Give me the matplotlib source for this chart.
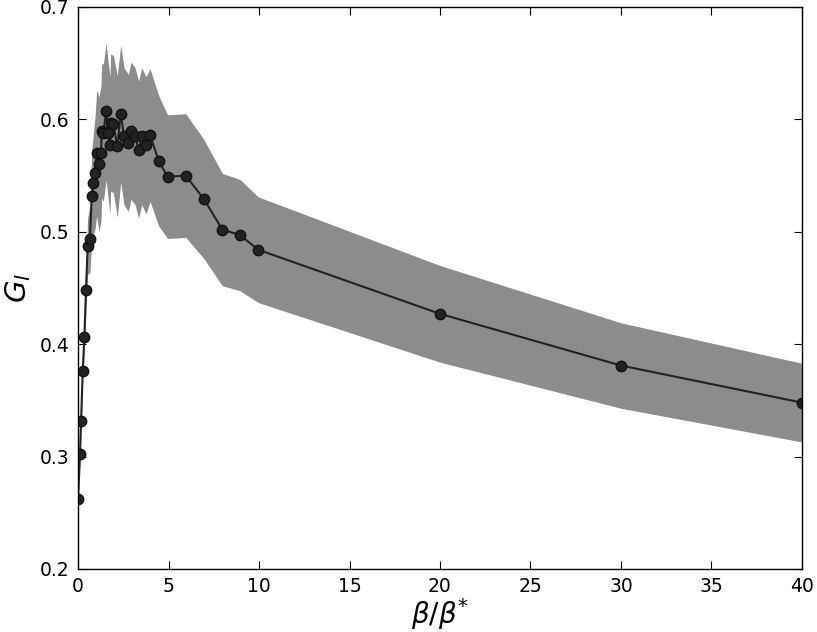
import matplotlib
matplotlib.use("Agg")
import matplotlib.pyplot as plt
import numpy as np

beta_ratio = [0.00, 0.11, 0.17, 0.26, 0.35, 0.44, 0.53, 0.66, 0.76, 0.85, 0.94,
              1.03, 1.16, 1.27, 1.31, 1.40, 1.55, 1.68, 1.77, 1.80, 1.95, 2.17,
              2.36, 2.54, 2.78, 2.93, 3.15, 3.35, 3.52, 3.76, 3.98, 4.46, 4.95,
              5.95, 6.96, 7.97, 8.95, 9.96, 20.0, 30.0, 40.0]
G_l = [0.262, 0.302, 0.332, 0.376, 0.406, 0.448, 0.487, 0.494, 0.532, 0.543, 0.552,
       0.570, 0.560, 0.570, 0.590, 0.588, 0.607, 0.588, 0.577, 0.597, 0.596, 0.576,
       0.605, 0.585, 0.579, 0.590, 0.585, 0.573, 0.585, 0.577, 0.586, 0.563, 0.549,
       0.550, 0.529, 0.502, 0.497, 0.484, 0.427, 0.381, 0.348]
G_std = [0.002, 0.004, 0.005, 0.007, 0.010, 0.015, 0.025, 0.030, 0.040, 0.045, 0.050,
         0.056, 0.060, 0.060, 0.060, 0.061, 0.061, 0.061, 0.061, 0.061, 0.061, 0.063,
         0.061, 0.061, 0.061, 0.061, 0.061, 0.061, 0.061, 0.061, 0.059, 0.058, 0.055,
         0.055, 0.053, 0.050, 0.0495, 0.047, 0.043, 0.038, 0.035]

x = np.array(beta_ratio)
y = np.array(G_l)
s = np.array(G_std)

fig = plt.figure(figsize=(8.17, 6.32), dpi=100)
ax = fig.add_axes([0.0955, 0.0997, 0.8861, 0.8893])
ax.fill_between(x, y - s, y + s, color="#8c8c8c", linewidth=0)
ax.plot(x, y, "-o", color="#222222", markersize=7.5, linewidth=1.5,
        markeredgecolor="#111111", markerfacecolor="#222222")

ax.set_xlim(0, 40)
ax.set_ylim(0.2, 0.7)
ax.set_xticks(np.arange(0, 41, 5))
ax.set_yticks([0.2, 0.3, 0.4, 0.5, 0.6, 0.7])
ax.tick_params(direction="in", top=True, right=True, length=6, labelsize=13.5, pad=6)
for sp in ax.spines.values():
    sp.set_linewidth(1.0)
ax.set_xlabel(r"$\beta/\beta^{*}$", fontsize=20, labelpad=0)
ax.set_ylabel(r"$G_l$", fontsize=21, labelpad=5)

fig.savefig("out.png", dpi=100)
